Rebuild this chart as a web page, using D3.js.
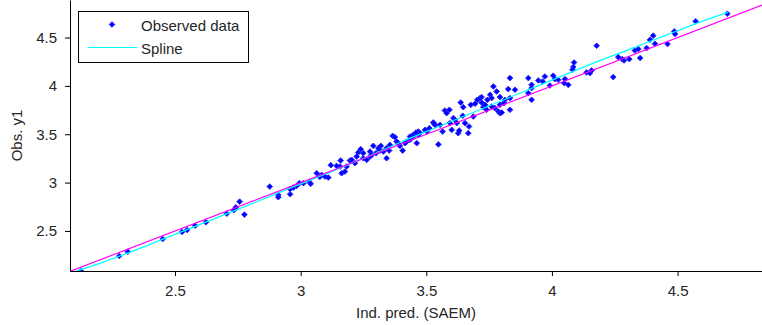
<!DOCTYPE html>
<html>
<head>
<meta charset="utf-8">
<script src="https://cdn.jsdelivr.net/npm/d3@7"></script>
<style>
  html, body { margin: 0; padding: 0; background: #fff; }
  svg { display: block; font-family: "Liberation Sans", Arial, sans-serif; }
</style>
</head>
<body>
<svg id="chart" width="762" height="325"></svg>
<script>
// Observed values (y) against individual predictions (x)
const predX = [
  2.126, 2.278, 2.312, 2.451, 2.528, 2.548, 2.580, 2.623, 2.706, 2.734,
  2.742, 2.757, 2.776, 2.877, 2.911, 2.911, 2.958, 2.958, 2.971, 2.984,
  2.995, 3.034, 3.040, 3.074, 3.084, 3.097, 3.110, 3.120, 3.157, 3.159,
  3.163, 3.176, 3.196, 3.216, 3.223, 3.229, 3.239, 3.249, 3.263, 3.276,
  3.289, 3.300, 3.309, 3.319, 3.329, 3.342, 3.352, 3.366, 3.375, 3.382,
  3.395, 3.406, 3.442, 3.462, 3.468, 3.415, 3.435, 3.448, 3.468, 3.475,
  3.495, 3.502, 3.528, 3.535, 3.548, 3.555, 3.565, 3.574, 3.592, 3.594,
  3.601, 3.608, 3.614, 3.627, 3.637, 3.645, 3.647, 3.670, 3.677, 3.694,
  3.703, 3.714, 3.720, 3.727, 3.734, 3.743, 3.754, 3.767, 3.760, 3.773,
  3.780, 3.787, 3.793, 3.826, 3.833, 3.720, 3.793, 3.809, 3.833, 3.853,
  3.833, 3.906, 3.919, 3.919, 3.946, 3.972, 4.005, 3.631, 3.531, 3.919,
  3.906, 3.963, 3.992, 4.012, 4.025, 4.052, 4.049, 4.065, 4.088, 4.085,
  4.082, 4.138, 4.151, 4.158, 4.178, 4.244, 4.264, 4.287, 4.308, 4.330,
  4.344, 4.351, 4.377, 4.390, 4.403, 4.460, 4.487, 4.490, 4.572, 4.698,
  4.410, 4.280, 3.800, 3.813, 3.422, 3.459, 3.512, 3.581, 3.621, 3.654,
  3.667, 3.687, 3.740, 3.760, 3.793, 3.011, 3.064, 3.077, 3.143, 3.183,
  3.203, 3.249, 3.276, 3.283, 3.316, 3.342, 3.355, 3.389, 3.435, 3.448
];
const obsY = [
  2.085, 2.241, 2.286, 2.417, 2.490, 2.510, 2.555, 2.590, 2.679, 2.714,
  2.745, 2.803, 2.669, 2.959, 2.873, 2.849, 2.932, 2.880, 2.948, 2.966,
  2.994, 3.010, 2.987, 3.062, 3.080, 3.062, 3.052, 3.180, 3.166, 3.228,
  3.097, 3.114, 3.228, 3.201, 3.269, 3.311, 3.346, 3.252, 3.235, 3.269,
  3.380, 3.304, 3.356, 3.380, 3.321, 3.252, 3.331, 3.483, 3.470, 3.424,
  3.380, 3.331, 3.476, 3.408, 3.494, 3.408, 3.476, 3.494, 3.528, 3.511,
  3.545, 3.528, 3.622, 3.597, 3.395, 3.597, 3.528, 3.745, 3.753, 3.615,
  3.545, 3.667, 3.649, 3.511, 3.828, 3.691, 3.780, 3.580, 3.804, 3.815,
  3.856, 3.874, 3.828, 3.780, 3.804, 3.856, 3.908, 3.994, 3.787, 3.770,
  3.942, 3.735, 3.718, 3.967, 3.874, 3.884, 3.884, 3.822, 4.081, 3.960,
  3.753, 4.081, 4.011, 3.856, 4.056, 4.097, 4.105, 3.538, 3.608, 3.977,
  3.925, 4.045, 4.004, 4.070, 4.063, 4.070, 4.029, 4.011, 4.242, 4.195,
  4.167, 4.139, 4.132, 4.160, 4.415, 4.091, 4.298, 4.263, 4.277, 4.366,
  4.381, 4.288, 4.391, 4.477, 4.519, 4.433, 4.563, 4.536, 4.667, 4.746,
  4.436, 4.277, 3.725, 3.856, 3.424, 3.518, 3.563, 3.718, 3.615, 3.615,
  3.511, 3.683, 3.753, 3.874, 3.804, 2.994, 3.097, 3.062, 3.173, 3.166,
  3.235, 3.304, 3.321, 3.287, 3.331, 3.356, 3.390, 3.408, 3.442, 3.476
];

// Smoothing spline through the observations
const splineX = [2.09, 2.20, 2.35, 2.50, 2.65, 2.80, 2.95, 3.10, 3.25, 3.40,
                 3.55, 3.70, 3.85, 4.00, 4.15, 4.30, 4.45, 4.60, 4.70];
const splineY = [2.07, 2.165, 2.31, 2.465, 2.62, 2.775, 2.935, 3.09, 3.25, 3.42,
                 3.58, 3.74, 3.90, 4.06, 4.22, 4.37, 4.52, 4.67, 4.76];

// Line of identity y = x across the axes
const identityX = [2.082, 4.836];
const identityY = [2.082, 4.836];

const xTicks = [2.5, 3, 3.5, 4, 4.5];
const yTicks = [2.5, 3, 3.5, 4, 4.5];
const xLabel = "Ind. pred. (SAEM)";
const yLabel = "Obs. y1";
const legendLabels = ["Observed data", "Spline"];

const svg = d3.select("#chart");
const plotLeft = 70, plotRight = 762, plotTop = 0, plotBottom = 271;
const fontSize = "15px";

const x = d3.scaleLinear().domain([2.082, 4.836]).range([plotLeft, plotRight]);
const y = d3.scaleLinear().domain([2.086, 4.888]).range([plotBottom, plotTop]);

const plot = svg.append("g");
plot.append("clipPath").attr("id", "clip")
  .append("rect").attr("x", plotLeft).attr("y", plotTop)
  .attr("width", plotRight - plotLeft).attr("height", plotBottom - plotTop);

const inner = plot.append("g").attr("clip-path", "url(#clip)");

// data markers (small filled diamonds)
const diamond = d3.symbol().type(d3.symbolSquare).size(16)();
inner.append("g").selectAll("path")
  .data(d3.range(predX.length))
  .join("path")
  .attr("d", diamond)
  .attr("transform", i => `translate(${x(predX[i])},${y(obsY[i])}) rotate(45)`)
  .attr("fill", "#0000ff")
  .attr("stroke", "#2a2aff")
  .attr("stroke-width", 0.9);

const line = d3.line().x(d => x(d[0])).y(d => y(d[1]));

inner.append("path")
  .datum(d3.zip(splineX, splineY))
  .attr("d", line.curve(d3.curveMonotoneX))
  .attr("fill", "none")
  .attr("stroke", "#00ffff")
  .attr("stroke-width", 1.2);

inner.append("path")
  .datum(d3.zip(identityX, identityY))
  .attr("d", d3.line().x(d => x(d[0])).y(d => y(d[1])))
  .attr("fill", "none")
  .attr("stroke", "#ff00ff")
  .attr("stroke-width", 1.2);

// axes
const textColor = "#262626";
const xAxis = svg.append("g")
  .attr("transform", `translate(0,${plotBottom})`)
  .call(d3.axisBottom(x).tickValues(xTicks).tickFormat(d => String(d))
        .tickSize(5).tickSizeOuter(0).tickPadding(9));
const yAxis = svg.append("g")
  .attr("transform", `translate(${plotLeft},0)`)
  .call(d3.axisLeft(y).tickValues(yTicks).tickFormat(d => String(d))
        .tickSize(5).tickSizeOuter(0).tickPadding(8));

[xAxis, yAxis].forEach(g => {
  g.select(".domain").attr("stroke", "#000").attr("stroke-width", 1);
  g.selectAll(".tick line").attr("stroke", "#000");
  g.selectAll(".tick text").attr("fill", textColor)
    .style("font-family", '"Liberation Sans", Arial, sans-serif')
    .style("font-size", fontSize);
});

svg.append("text")
  .attr("x", (plotLeft + plotRight) / 2).attr("y", 318)
  .attr("text-anchor", "middle")
  .attr("fill", textColor)
  .style("font-size", fontSize)
  .text(xLabel);

svg.append("text")
  .attr("transform", `translate(22,${(plotTop + plotBottom) / 2}) rotate(-90)`)
  .attr("text-anchor", "middle")
  .attr("fill", textColor)
  .style("font-size", fontSize)
  .text(yLabel);

// legend
const legend = svg.append("g");
legend.append("rect")
  .attr("x", 78.5).attr("y", 11.5).attr("width", 170).attr("height", 51)
  .attr("fill", "#fff").attr("stroke", "#000").attr("stroke-width", 1);
legend.append("path")
  .attr("d", diamond)
  .attr("transform", "translate(112,24.5) rotate(45)")
  .attr("fill", "#0000ff").attr("stroke", "#2a2aff").attr("stroke-width", 0.9);
legend.append("line")
  .attr("x1", 88).attr("x2", 137).attr("y1", 47.5).attr("y2", 47.5)
  .attr("stroke", "#00ffff").attr("stroke-width", 1.2);
legend.selectAll("text.lg")
  .data(legendLabels)
  .join("text")
  .attr("class", "lg")
  .attr("x", 141)
  .attr("y", (d, i) => 31 + i * 23)
  .attr("fill", textColor)
  .style("font-size", fontSize)
  .text(d => d);
</script>
</body>
</html>
